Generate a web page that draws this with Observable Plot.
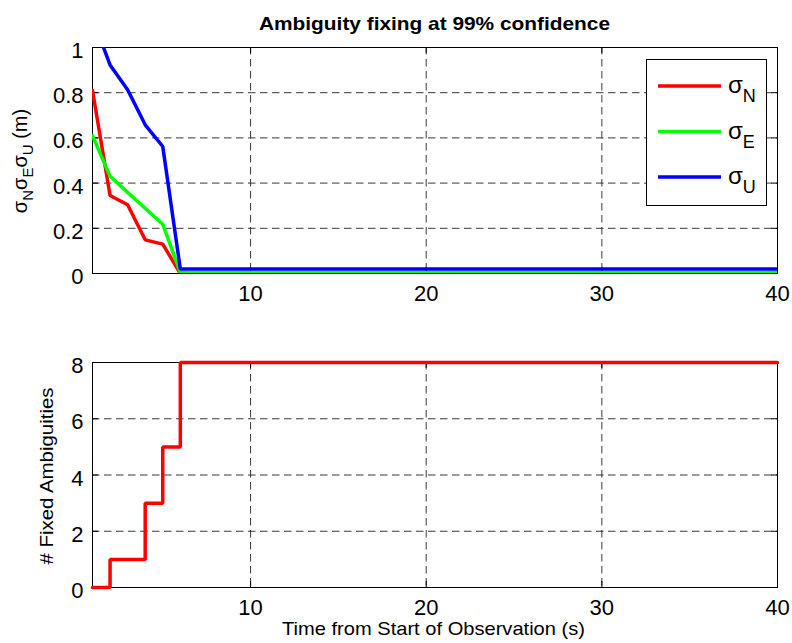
<!DOCTYPE html>
<html><head><meta charset="utf-8">
<script src="https://cdn.jsdelivr.net/npm/d3@7"></script>
<script src="https://cdn.jsdelivr.net/npm/@observablehq/plot@0.6"></script>
<style>
body{margin:0;background:#fff;}
#wrap{position:relative;width:792px;height:643px;font-family:"Liberation Sans",Arial,sans-serif;background:#fff;}
#wrap svg{position:absolute;left:0;}
</style></head><body><div id="wrap"></div>
<script>
// ---- data ----
const time = [1, 2, 3, 4, 5, 6, 40];
const sigmaN = [0.81, 0.345, 0.304, 0.149, 0.13, 0.0, 0.0];
const sigmaE = [0.61, 0.43, 0.359, 0.289, 0.218, 0.004, 0.004];
const sigmaU = [1.13, 0.923, 0.813, 0.658, 0.562, 0.02, 0.02];
const fixedAmb = [0, 1, 1, 3, 5, 8, 8];
const seriesNames = ["N", "E", "U"];
const seriesColors = ["#ff0000", "#00ff00", "#0000ff"];
const xTicks = [10, 20, 30, 40];
const xGridTicks = [10, 20, 30];
const yTicksTop = [0, 0.2, 0.4, 0.6, 0.8, 1];
const yTicksBottom = [0, 2, 4, 6, 8];
const titleText = "Ambiguity fixing at 99% confidence";
const xLabelText = "Time from Start of Observation (s)";
const yLabelBottomText = "# Fixed Ambiguities";
const yLabelTopUnit = " (m)";

const seriesValues = [sigmaN, sigmaE, sigmaU];
const topRows = seriesNames.flatMap((s, i) => time.map((t, j) => ({t, v: seriesValues[i][j], s})));
const bottomRows = time.map((t, j) => ({t, v: fixedAmb[j]}));

const W = 792, ML = 92, MR = 15;
const innerW = W - ML - MR;
const FONT = "Liberation Sans, Arial, sans-serif";
const wrap = document.getElementById("wrap");

function panel({height, mt, mb, yDomain, yTicks, marks}) {
  const innerH = height - mt - mb;
  return Plot.plot({
    width: W, height, marginLeft: ML, marginRight: MR, marginTop: mt, marginBottom: mb,
    style: {fontFamily: FONT, background: "transparent", color: "#000", overflow: "visible"},
    x: {domain: [1, 40]},
    y: {domain: yDomain},
    color: {domain: seriesNames, range: seriesColors},
    marks: [
      Plot.ruleX(xGridTicks, {stroke: "#222", strokeWidth: 0.9, strokeDasharray: "7.5,4.5"}),
      Plot.ruleY(yTicks.slice(1, -1), {stroke: "#222", strokeWidth: 0.9, strokeDasharray: "7.5,4.5"}),
      Plot.frame({stroke: "#000", strokeWidth: 1}),
      Plot.ruleX(xTicks, {stroke: "#000", insetTop: innerH - 6}),
      Plot.ruleX(xTicks, {stroke: "#000", insetBottom: innerH - 6}),
      Plot.ruleY(yTicks, {stroke: "#000", insetRight: innerW - 6}),
      Plot.ruleY(yTicks, {stroke: "#000", insetLeft: innerW - 6}),
      ...marks,
      Plot.axisX(xTicks, {tickSize: 0, tickPadding: 12, fontSize: 22, label: null, tickFormat: d3.format("~g")}),
      Plot.axisY(yTicks, {tickSize: 0, tickPadding: 9, fontSize: 22, label: null, dy: 3.5, tickFormat: d3.format("~g")})
    ]
  });
}

const p1 = panel({
  height: 310, mt: 47, mb: 37, yDomain: [0, 1], yTicks: yTicksTop,
  marks: [Plot.line(topRows, {x: "t", y: "v", z: "s", stroke: "s", strokeWidth: 3.5, strokeLinejoin: "miter", clip: true})]
});
p1.style.top = "0px";
wrap.appendChild(p1);

const p2 = panel({
  height: 333, mt: 52, mb: 56, yDomain: [0, 8], yTicks: yTicksBottom,
  marks: [Plot.line(bottomRows, {x: "t", y: "v", stroke: "#ff0000", strokeWidth: 3.5, strokeLinejoin: "miter", curve: "step-after"})]
});
p2.style.top = "310px";
wrap.appendChild(p2);

// ---- overlay: title, labels, legend ----
const ov = d3.select(wrap).append("svg")
  .attr("width", W).attr("height", 643)
  .style("top", "0px").style("pointer-events", "none")
  .style("font-family", FONT);

ov.append("text").attr("x", 434.5).attr("y", 30).attr("text-anchor", "middle")
  .attr("font-weight", "bold").attr("font-size", 19)
  .attr("textLength", 351).attr("lengthAdjust", "spacingAndGlyphs").text(titleText);

ov.append("text").attr("x", 433.5).attr("y", 635).attr("text-anchor", "middle")
  .attr("font-size", 19).attr("textLength", 303).attr("lengthAdjust", "spacingAndGlyphs").text(xLabelText);

ov.append("text").attr("transform", "translate(53,476) rotate(-90)").attr("text-anchor", "middle")
  .attr("font-size", 19).attr("textLength", 177).attr("lengthAdjust", "spacingAndGlyphs").text(yLabelBottomText);

const yl = ov.append("text").attr("transform", "translate(27,161) rotate(-90)").attr("text-anchor", "middle")
  .attr("font-size", 20);
seriesNames.forEach((s, i) => {
  yl.append("tspan").attr("font-size", 20).attr("dy", i === 0 ? 0 : -6).text("σ");
  yl.append("tspan").attr("font-size", 15).attr("dy", 6).text(s);
});
yl.append("tspan").attr("font-size", 20).attr("dy", -6).text(yLabelTopUnit);

// legend
const lg = ov.append("g");
lg.append("rect").attr("x", 646.5).attr("y", 59.5).attr("width", 120).attr("height", 146)
  .attr("fill", "#fff").attr("stroke", "#000").attr("stroke-width", 1);
seriesNames.forEach((s, i) => {
  const cy = 86 + i * 45.5;
  lg.append("line").attr("x1", 658).attr("x2", 721).attr("y1", cy).attr("y2", cy)
    .attr("stroke", seriesColors[i]).attr("stroke-width", 3.5);
  const t = lg.append("text").attr("x", 728).attr("y", cy + 7).attr("font-size", 24);
  t.append("tspan").text("σ");
  t.append("tspan").attr("font-size", 18).attr("dy", 9).text(s);
});
</script></body></html>
